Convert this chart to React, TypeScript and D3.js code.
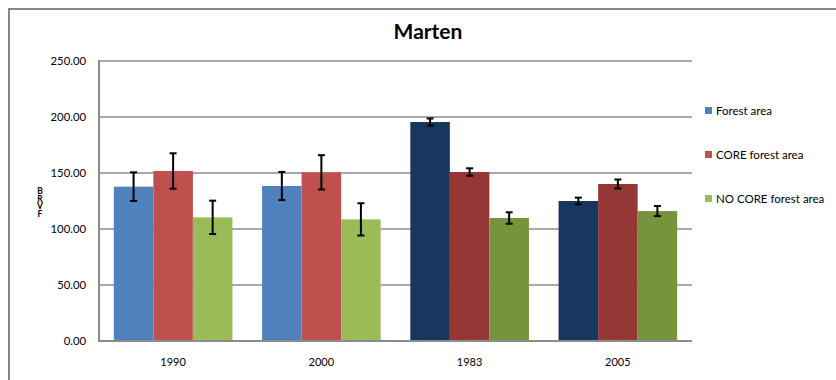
import React from "react";
import * as d3 from "d3";

const categories = ["1990", "2000", "1983", "2005"];
const seriesNames = ["Forest area", "CORE forest area", "NO CORE forest area"];
const forestArea = [137.8, 138.4, 195.5, 125.0];
const coreArea = [151.8, 150.6, 150.9, 140.2];
const noCoreArea = [110.4, 108.6, 109.8, 116.0];
const forestErr = [12.8, 12.6, 3.2, 3.0];
const coreErr = [15.8, 15.3, 3.3, 4.0];
const noCoreErr = [14.9, 14.4, 5.1, 4.5];
const yTicks = [0, 50, 100, 150, 200, 250];
const yAxisLabel = "BRVF";

const lightColors = ["#4F81BD", "#C0504D", "#9BBB59"];
const darkColors = ["#17375E", "#953735", "#77933C"];
const darkCats = ["1983", "2005"];

export default function App() {
  const W = 836, H = 380;
  const left = 99, right = 692, top = 61, bottom = 341;
  const font = "Lato, 'Open Sans', sans-serif";
  const x0 = d3.scaleBand().domain(categories).range([left, right]).paddingInner(0.2).paddingOuter(0.1);
  const x1 = d3.scaleBand().domain(seriesNames).range([0, x0.bandwidth()]);
  const y = d3.scaleLinear().domain([0, 250]).range([bottom, top]);
  const values = [forestArea, coreArea, noCoreArea];
  const errs = [forestErr, coreErr, noCoreErr];

  return (
    <svg width={W} height={H} style={{ position: "absolute", left: 0, top: 0, display: "block" }} fontFamily={font}>
      <rect x={0} y={0} width={W} height={H} fill="#fff" />
      <path d={`M9,${H + 5} L9,9 L${W + 5},9`} fill="none" stroke="#878787" strokeWidth={2} />
      <text x={428} y={39} textAnchor="middle" fontSize={21} fontWeight="bold" fill="#000">Marten</text>
      {yTicks.map((t) => (
        <g key={t}>
          {t > 0 && <line x1={left} x2={right} y1={y(t)} y2={y(t)} stroke="#8c8c8c" strokeWidth={1.5} />}
          <text x={86} y={y(t) + 4} textAnchor="end" fontSize={11.3} fill="#000">{t.toFixed(2)}</text>
        </g>
      ))}
      {categories.map((c, ci) =>
        seriesNames.map((s, si) => {
          const v = values[si][ci];
          const e = errs[si][ci];
          const bx = (x0(c) as number) + (x1(s) as number);
          const bw = x1.bandwidth();
          const cx = bx + bw / 2;
          const col = darkCats.includes(c) ? darkColors[si] : lightColors[si];
          return (
            <g key={c + s}>
              <rect x={bx} y={y(v)} width={bw} height={bottom - y(v)} fill={col} />
              <line x1={cx} x2={cx} y1={y(v + e)} y2={y(v - e)} stroke="#000" strokeWidth={2} />
              <line x1={cx - 3.5} x2={cx + 3.5} y1={y(v + e)} y2={y(v + e)} stroke="#000" strokeWidth={2} />
              <line x1={cx - 3.5} x2={cx + 3.5} y1={y(v - e)} y2={y(v - e)} stroke="#000" strokeWidth={2} />
            </g>
          );
        })
      )}
      <line x1={left} x2={left} y1={top - 1} y2={bottom} stroke="#8c8c8c" strokeWidth={2} />
      <line x1={left - 1} x2={right} y1={bottom} y2={bottom} stroke="#8c8c8c" strokeWidth={2} />
      {categories.map((c) => (
        <text key={c} x={(x0(c) as number) + x0.bandwidth() / 2} y={366} textAnchor="middle" fontSize={11} fill="#000">{c}</text>
      ))}
      <text
        x={40}
        y={186}
        fontSize={8.5}
        fontWeight="bold"
        fill="#000"
        style={{ writingMode: "vertical-rl", textOrientation: "upright", letterSpacing: "-2.5px" } as React.CSSProperties}
      >
        {yAxisLabel}
      </text>
      {seriesNames.map((s, i) => (
        <g key={s}>
          <rect x={705} y={107 + i * 44} width={7} height={7} fill={lightColors[i]} />
          <text x={716} y={115 + i * 44} fontSize={11.5} fill="#000">{s}</text>
        </g>
      ))}
    </svg>
  );
}
